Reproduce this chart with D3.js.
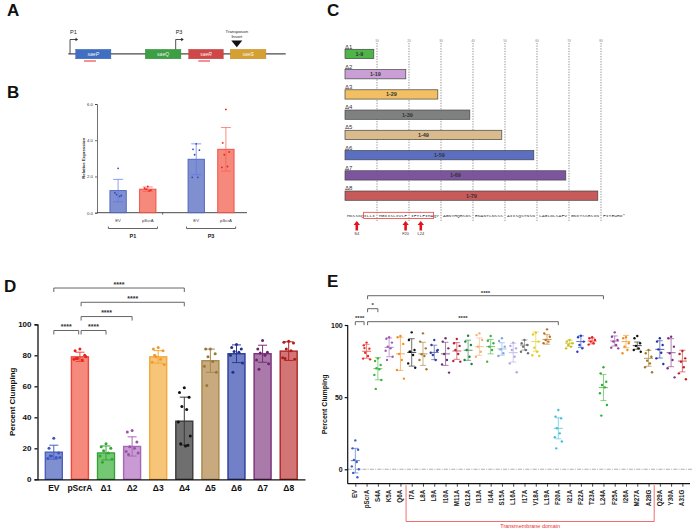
<!DOCTYPE html>
<html>
<head>
<meta charset="UTF-8">
<script src="https://d3js.org/d3.v7.min.js"></script>
<style>
  html, body { margin:0; padding:0; background:#fff; }
  svg { display:block; font-family:"Liberation Sans", Arial, sans-serif; }
</style>
</head>
<body>
<svg id="fig" width="692" height="529"></svg>
<script>
// ---------- panel A : sae operon ----------
var geneNames = ["saeP", "saeQ", "saeR", "saeS"];
var geneStart = [34, 354, 554, 745];
var geneEnd = [196, 518, 713, 909];
var geneColors = ["#3f6fc2", "#3c9f43", "#cf4747", "#d69f32"];
var promoters = [{name: "P1", pos: 8}, {name: "P3", pos: 494}];
var transposonPos = 775;
var probeSpans = [[72, 127], [598, 652]];

// ---------- panel B : qPCR ----------
var bGroups = ["P1", "P3"];
var bStrains = ["EV", "pScrA"];
var bMeans = [[1.22, 1.3], [2.95, 3.5]];
var bSd = [[0.62, 0.12], [0.85, 1.2]];
var bPoints = [
  [[2.45, 1.1, 0.95, 1.0, 0.9], [1.45, 1.35, 1.25, 1.3, 1.2]],
  [[3.8, 3.5, 3.45, 3.2, 1.95, 1.95], [5.7, 3.85, 3.35, 3.2, 2.55, 2.5]]
];
var bTicks = [0, 2, 4, 6];

// ---------- panel C : truncations ----------
var cNames = ["Δ1", "Δ2", "Δ3", "Δ4", "Δ5", "Δ6", "Δ7", "Δ8"];
var cEnds = [9, 19, 29, 39, 49, 59, 69, 79];
var cColors = ["#4fb548", "#c99fd6", "#f2c062", "#7f8181", "#d9bb8e", "#5b6fc1", "#7c559e", "#c75a5a"];
var cTicks = [10, 20, 30, 40, 50, 60, 70, 80];
var cSeq = ["MKSSKQILLI", "MGIISLIVLF", "IFTLFIMAQY", "AGNYHQRSDS", "ENANTLNSSS",
            "AIISQSTNSN", "LAGLDLSAFV", "GNITSSRSIN", "FITEWRD*"];
var cTm = [7, 28];
var cArrows = [4, 20, 24];
var cArrowLabels = ["S4", "F20", "L24"];

// ---------- panel D : truncation clumping ----------
var dCats = ["EV", "pScrA", "Δ1", "Δ2", "Δ3", "Δ4", "Δ5", "Δ6", "Δ7", "Δ8"];
var dMeans = [17.5, 79, 17, 21.2, 79, 37.5, 76.5, 81, 81, 82.7];
var dSd = [4.5, 3, 4.5, 6.2, 4, 15.5, 7.5, 5.7, 5.5, 6];
var dPoints = [
  [26.5, 20, 17, 15, 14, 13.5, 14, 15],
  [84, 83, 80, 78, 77, 77.5, 79, 78],
  [23, 21, 20, 18.5, 17, 15, 13, 11],
  [31.5, 30.5, 24, 21, 20, 18, 17, 16],
  [85, 84, 83, 79, 77.5, 75.5, 74, 80],
  [59, 56, 53, 47, 45, 37, 28, 23, 22, 21.5],
  [84, 84, 81, 79, 76, 73, 69, 60.5],
  [87, 85, 84, 82.5, 82, 80, 75, 69],
  [89.5, 84, 82, 81.5, 80, 77, 74.5, 71],
  [89, 88.5, 88, 84, 83, 78.5, 77.5, 78]
];
var dFill = ["#7f8fd0", "#f58a7c", "#74c874", "#c99ad3", "#f6c577", "#6f6f6f", "#c9aa7e", "#7280c8", "#a97aaa", "#d47575"];
var dStroke = ["#4a60bf", "#f0473c", "#3aa13a", "#a66ab4", "#f5a83a", "#3a3a3a", "#a8884e", "#2c3c94", "#7a2f78", "#ab2626"];
var dDot = ["#3a56c0", "#e8231e", "#2ea82e", "#9a52a8", "#f29a28", "#111111", "#9a7838", "#1f2f8e", "#6e2470", "#b01c1c"];
var dTicks = [0, 20, 40, 60, 80, 100];
var dSig = [
  {a: "EV", b: "pScrA", y: 96, t: "****"},
  {a: "pScrA", b: "Δ1", y: 96, t: "****"},
  {a: "pScrA", b: "Δ2", y: 105, t: "****"},
  {a: "pScrA", b: "Δ4", y: 114.2, t: "****"},
  {a: "EV", b: "Δ4", y: 123.4, t: "****"}
];

// ---------- panel E : alanine scan ----------
var eCats = ["EV", "pScrA", "S4A", "K5A", "Q6A", "I7A", "L8A", "L9A", "I10A", "M11A", "G12A",
             "I13A", "I14A", "S15A", "L16A", "I17A", "V18A", "L19A", "F20A", "I21A", "F22A",
             "T23A", "L24A", "F25A", "I26A", "M27A", "A28G", "Q29A", "Y30A", "A31G"];
var eMeans = [6, 81.8, 69.7, 84.5, 80, 81, 80, 81, 80, 82, 82.5, 85, 85, 83.4, 80.8, 86.1,
              88.5, 90, 28.4, 87.3, 88.5, 88.9, 56.6, 88.9, 88.5, 85.7, 76.9, 83.1, 80.8, 75];
var eSd = [8.5, 4.8, 7.7, 6.5, 11.5, 9.5, 8, 5, 8, 5.8, 7, 6, 5, 4.3, 6.5, 3.5,
           6.7, 3.3, 7.3, 2.2, 4, 2, 9, 3.5, 4.3, 2.5, 5.5, 6, 9.7, 7.5];
var ePoints = [
  [20, 14.5, 13.5, 6.5, 5, 2, 0, -2.5, -5.5],
  [87.8, 85.9, 83.6, 80.8, 78.5, 76.7, 76.2, 84],
  [76.9, 75, 72.3, 70, 69.3, 65.4, 61.9, 55.7],
  [91.5, 90.5, 87.8, 85, 83.8, 82.2, 78, 75.8],
  [92.4, 91.5, 86.9, 79.9, 75.7, 68.8, 62.8],
  [94.9, 89.6, 82.7, 81.5, 79.2, 73.4, 70.4, 81.5],
  [94.2, 88.5, 83.8, 79.7, 78.5, 75.7, 69.3],
  [89.6, 86.1, 82.2, 79.2, 75.7, 80.8, 82.7],
  [90.8, 88.5, 83.8, 79.9, 75.7, 72.7, 67],
  [90.3, 87.3, 85.5, 82.7, 79.9, 75, 74.6],
  [92.6, 88.5, 86.1, 82.7, 78, 75.7, 73],
  [94.2, 93, 89.6, 85, 81.5, 78],
  [92.4, 89.1, 87.3, 85, 82.7, 74.6],
  [90.8, 88.9, 85, 83.1, 80.4, 78.5],
  [87.8, 85.5, 83.8, 82.7, 78, 73.4, 67.2],
  [89.6, 87.3, 86.1, 85, 82.7, 81.5, 80.4],
  [94.7, 93.5, 88.5, 84.3, 81.5, 79, 78.5],
  [97, 94.2, 91.9, 89.6, 88.5, 87.3],
  [41.1, 36.5, 35.3, 28.4, 24.9, 22.2, 19.2, 14.5],
  [89.6, 88.5, 87.3, 86.1, 85, 83.8],
  [92.6, 91.5, 88.5, 86.1, 83.8, 81.5],
  [91.5, 90.8, 89.6, 88.5, 87.3, 86.4],
  [70.7, 66.5, 60.7, 58.4, 56.8, 52.7, 44.6, 37.2],
  [94.9, 91.9, 89.6, 88.5, 86.1, 84.3, 83.8],
  [91.5, 90.8, 87.3, 85, 82.7, 80.4],
  [92.4, 90.8, 87.3, 85.5, 83.8, 82.7, 81.5],
  [82.7, 80.4, 78, 75.3, 73.4, 70.7, 67.2],
  [90.8, 88.5, 86.1, 83.1, 80.8, 76.9, 73],
  [91.9, 90.8, 85, 80.4, 75.7, 70, 63.7],
  [82, 79.9, 76.9, 74.6, 70.7, 66.5, 62.4]
];
var eColors = ["#3a5fc8", "#e8302a", "#3cb43c", "#a060b8", "#f59020", "#111111", "#a07830", "#3040a0",
               "#703070", "#c02030", "#208040", "#f5b070", "#40b040", "#80a8e0", "#b0a8e0", "#707070",
               "#e0cc20", "#c07020", "#40c0d8", "#c8c020", "#2040c0", "#e82020", "#30b030", "#9040a0",
               "#f09020", "#111111", "#a07828", "#2030a0", "#803080", "#c02020"];
var eTicks = [0, 50, 100];
var eSig = [
  {a: "EV", b: "pScrA", y: 102.3, t: "****"},
  {a: "pScrA", b: "S4A", y: 111.3, t: "*"},
  {a: "pScrA", b: "F20A", y: 102.3, t: "****"},
  {a: "pScrA", b: "L24A", y: 120.3, t: "****"}
];
var eTmFrom = ["Q6A", "I7A"], eTmTo = ["A28G", "Q29A"];

// jitter pattern (fraction of half-width) for scattered dots
var jit = [0, -0.8, 0.8, -0.4, 0.4, -1, 1, -0.6, 0.6, 0.2];

var svg = d3.select("#fig");

// panel letters
[["A", 7, 16], ["B", 7, 98], ["C", 327, 16], ["D", 4, 292], ["E", 327, 287]].forEach(function(l) {
  svg.append("text").attr("x", l[1]).attr("y", l[2]).text(l[0])
    .attr("font-size", 17).attr("font-weight", "bold").attr("fill", "#111");
});

// ================= A =================
(function() {
  var g = svg.append("g");
  var x = d3.scaleLinear().domain([0, 1000]).range([68.3, 285.7]);
  var yl = 53.8, top = 49.3, h = 9.5;
  g.append("line").attr("x1", x(0)).attr("x2", x(1000)).attr("y1", yl).attr("y2", yl)
    .attr("stroke", "#4a4a4a").attr("stroke-width", 1.3);
  var genes = geneNames.map(function(n, i) { return {name: n, s: geneStart[i], e: geneEnd[i], c: geneColors[i]}; });
  g.selectAll("rect.gene").data(genes).enter().append("rect")
    .attr("x", function(d) { return x(d.s); })
    .attr("width", function(d) { return x(d.e) - x(d.s); })
    .attr("y", top).attr("height", h)
    .attr("fill", function(d) { return d.c; })
    .attr("stroke", function(d) { return d3.color(d.c).darker(0.4); }).attr("stroke-width", 0.4);
  g.selectAll("text.gene").data(genes).enter().append("text")
    .attr("x", function(d) { return (x(d.s) + x(d.e)) / 2; }).attr("y", top + h / 2 + 1.7)
    .attr("text-anchor", "middle").attr("font-size", 5).attr("font-style", "italic")
    .attr("fill", "#f4f4f4").text(function(d) { return d.name; });
  probeSpans.forEach(function(p) {
    g.append("line").attr("x1", x(p[0])).attr("x2", x(p[1])).attr("y1", 61).attr("y2", 61)
      .attr("stroke", "#f0555a").attr("stroke-width", 1.3);
  });
  promoters.forEach(function(p, i) {
    var px = x(p.pos), y0 = i === 0 ? yl : top;
    g.append("path").attr("d", "M" + px + "," + y0 + "V39.5H" + (px + 6))
      .attr("fill", "none").attr("stroke", "#222").attr("stroke-width", 0.8);
    g.append("path").attr("d", "M" + (px + 8) + ",39.5L" + (px + 5.5) + ",37.8L" + (px + 5.5) + ",41.2Z").attr("fill", "#222");
    g.append("text").attr("x", px).attr("y", 33.5).attr("font-size", 5.5).attr("fill", "#222").text(p.name);
  });
  var tx = x(transposonPos);
  g.append("path").attr("d", "M" + (tx - 5.5) + ",40.5L" + (tx + 5.5) + ",40.5L" + tx + ",47.3Z").attr("fill", "#111");
  g.append("text").attr("x", tx).attr("y", 33).attr("text-anchor", "middle").attr("font-size", 4.3).attr("fill", "#222").text("Transposon");
  g.append("text").attr("x", tx).attr("y", 38.3).attr("text-anchor", "middle").attr("font-size", 4.3).attr("fill", "#222").text("Insert");
})();

// ================= B =================
(function() {
  var g = svg.append("g");
  var y = d3.scaleLinear().domain([0, 6]).range([212.7, 104]);
  var x0 = d3.scaleBand().domain(bGroups).range([97, 247]).paddingInner(0.32).paddingOuter(0.12);
  var x1 = d3.scaleBand().domain(bStrains).range([0, x0.bandwidth()]).paddingInner(0.45).paddingOuter(0.12);
  var fills = ["#7f8fd0", "#f58a7c"], strokes = ["#4a60bf", "#f0473c"], dots = ["#2e4bb8", "#e8231e"];
  g.append("g").attr("transform", "translate(97,0)")
    .call(d3.axisLeft(y).tickValues(bTicks).tickSize(2).tickPadding(2))
    .call(function(a) {
      a.selectAll("text").attr("font-size", 4.3).attr("fill", "#333");
      a.selectAll("line,path").attr("stroke", "#333").attr("stroke-width", 0.7);
    });
  g.append("line").attr("x1", 97).attr("x2", 247).attr("y1", y(0)).attr("y2", y(0)).attr("stroke", "#333").attr("stroke-width", 0.9);
  g.append("line").attr("x1", x0.step() + 97 - x0.step() * 0.16).attr("x2", x0.step() + 97 - x0.step() * 0.16)
    .attr("y1", y(0)).attr("y2", y(0) + 2).attr("stroke", "#333").attr("stroke-width", 0.7);
  bGroups.forEach(function(gr, gi) {
    bStrains.forEach(function(st, si) {
      var bx = x0(gr) + x1(st), bw = x1.bandwidth(), cx = bx + bw / 2;
      var m = bMeans[gi][si], sd = bSd[gi][si];
      g.append("rect").attr("x", bx).attr("width", bw).attr("y", y(m)).attr("height", y(0) - y(m))
        .attr("fill", fills[si]).attr("stroke", strokes[si]).attr("stroke-width", 0.9);
      var ec = d3.color(strokes[si]).brighter(0.6);
      g.append("line").attr("x1", cx).attr("x2", cx).attr("y1", y(m - sd)).attr("y2", y(m + sd)).attr("stroke", ec).attr("stroke-width", 0.7);
      [m - sd, m + sd].forEach(function(v) {
        g.append("line").attr("x1", cx - 5).attr("x2", cx + 5).attr("y1", y(v)).attr("y2", y(v)).attr("stroke", ec).attr("stroke-width", 0.7);
      });
      g.selectAll(null).data(bPoints[gi][si]).enter().append("circle")
        .attr("cx", function(d, i) { return cx + jit[i] * 4; })
        .attr("cy", function(d) { return y(d); }).attr("r", 0.9).attr("fill", dots[si]);
      g.append("text").attr("x", cx).attr("y", 222).attr("text-anchor", "middle").attr("font-size", 4.3).attr("fill", "#333").text(st);
    });
    var l = x0(gr) + 2, r = x0(gr) + x0.bandwidth() - 2;
    g.append("path").attr("d", "M" + l + ",226.5V228.5H" + r + "V226.5").attr("fill", "none").attr("stroke", "#555").attr("stroke-width", 0.9);
    g.append("text").attr("x", (l + r) / 2).attr("y", 238).attr("text-anchor", "middle")
      .attr("font-size", 5.5).attr("font-weight", "bold").attr("fill", "#222").text(gr);
  });
  g.append("text").attr("transform", "translate(85," + y(3) + ") rotate(-90)").attr("text-anchor", "middle")
    .attr("font-size", 4.3).attr("font-weight", "bold").attr("fill", "#333").text("Relative Expression");
})();

// ================= C =================
(function() {
  var g = svg.append("g");
  var x = d3.scaleLinear().domain([0, 80]).range([345, 601]);
  var y = d3.scalePoint().domain(cNames).range([49.3, 191]);
  var bh = 9.3;
  g.selectAll("line.grid").data(cTicks).enter().append("line")
    .attr("x1", x).attr("x2", x).attr("y1", 43).attr("y2", 221)
    .attr("stroke", "#444").attr("stroke-width", 0.6).attr("stroke-dasharray", "1.3,1.3");
  g.selectAll("text.tick").data(cTicks).enter().append("text")
    .attr("x", x).attr("y", 42).attr("text-anchor", "middle").attr("font-size", 3.3).attr("fill", "#888")
    .text(function(d) { return d; });
  cNames.forEach(function(n, i) {
    var yy = y(n);
    g.append("rect").attr("x", x(0)).attr("width", x(cEnds[i]) - x(0)).attr("y", yy).attr("height", bh)
      .attr("fill", cColors[i]).attr("stroke", "#444").attr("stroke-width", 0.7);
    g.append("text").attr("x", x(0)).attr("y", yy - 0.8).attr("font-size", 6).attr("fill", "#333").text(n);
    g.append("text").attr("x", (x(0) + x(cEnds[i])) / 2).attr("y", yy + bh / 2 + 2).attr("text-anchor", "middle")
      .attr("font-size", 5.5).attr("font-weight", "bold").attr("fill", "#333").text("1-" + cEnds[i]);
  });
  // sequence
  cSeq.forEach(function(s, k) {
    g.append("text").attr("x", x(k * 10) + 2).attr("y", 217.2)
      .attr("font-family", "Liberation Mono, monospace").attr("font-size", 4.4).attr("fill", "#333")
      .attr("textLength", s.length * 2.8).attr("lengthAdjust", "spacingAndGlyphs").text(s);
  });
  var resX = function(r) { var k = Math.floor((r - 1) / 10); return x(k * 10) + 2 + ((r - 1) % 10 + 0.5) * 2.8; };
  g.append("rect").attr("x", resX(cTm[0]) - 1.6).attr("width", resX(cTm[1]) - resX(cTm[0]) + 3.2)
    .attr("y", 212.3).attr("height", 6.2).attr("fill", "none").attr("stroke", "#e84040").attr("stroke-width", 0.8);
  cArrows.forEach(function(r, i) {
    var ax = resX(r);
    g.append("path").attr("d", "M" + ax + ",221L" + (ax + 3.2) + ",225L" + (ax + 1.3) + ",225L" + (ax + 1.3) + ",230.5L" +
      (ax - 1.3) + ",230.5L" + (ax - 1.3) + ",225L" + (ax - 3.2) + ",225Z").attr("fill", "#e0141a");
    g.append("text").attr("x", ax).attr("y", 234.5).attr("text-anchor", "middle").attr("font-size", 4).attr("fill", "#333").text(cArrowLabels[i]);
  });
})();

// ================= D =================
(function() {
  var g = svg.append("g");
  var y = d3.scaleLinear().domain([0, 100]).range([479.3, 324.3]);
  var x = d3.scaleBand().domain(dCats).range([37.5, 305]).paddingInner(0.35).paddingOuter(0.3);
  var bw = x.bandwidth();
  dCats.forEach(function(c, i) {
    var bx = x(c), cx = bx + bw / 2, m = dMeans[i], sd = dSd[i];
    g.append("rect").attr("x", bx).attr("width", bw).attr("y", y(m)).attr("height", y(0) - y(m))
      .attr("fill", dFill[i]).attr("stroke", dStroke[i]).attr("stroke-width", 1.4);
    g.append("line").attr("x1", cx).attr("x2", cx).attr("y1", y(m - sd)).attr("y2", y(m + sd))
      .attr("stroke", dStroke[i]).attr("stroke-width", 1);
    [m - sd, m + sd].forEach(function(v) {
      g.append("line").attr("x1", cx - 4.5).attr("x2", cx + 4.5).attr("y1", y(v)).attr("y2", y(v))
        .attr("stroke", dStroke[i]).attr("stroke-width", 1);
    });
    g.selectAll(null).data(dPoints[i]).enter().append("circle")
      .attr("cx", function(d, j) { return cx + jit[j] * 6; })
      .attr("cy", function(d) { return y(d); }).attr("r", 1.5).attr("fill", dDot[i]);
  });
  g.append("g").attr("transform", "translate(0," + y(0) + ")")
    .call(d3.axisBottom(x).tickSize(0).tickPadding(6))
    .call(function(a) {
      a.select(".domain").attr("stroke", "#111").attr("stroke-width", 1.3);
      a.selectAll("text").attr("font-size", 8.5).attr("font-weight", "bold").attr("fill", "#111");
    });
  g.append("g").attr("transform", "translate(37.5,0)")
    .call(d3.axisLeft(y).tickValues(dTicks).tickSize(3).tickPadding(3))
    .call(function(a) {
      a.selectAll(".domain,line").attr("stroke", "#111").attr("stroke-width", 1.3);
      a.selectAll("text").attr("font-size", 8).attr("font-weight", "bold").attr("fill", "#111");
    });
  g.append("text").attr("transform", "translate(15," + y(50) + ") rotate(-90)").attr("text-anchor", "middle")
    .attr("font-size", 8).attr("font-weight", "bold").attr("fill", "#111").text("Percent Clumping");
  dSig.forEach(function(s) {
    var xa = x(s.a) + bw / 2 + (s.a === "pScrA" ? 1.2 : 0), xb = x(s.b) + bw / 2 - (s.b === "pScrA" ? 1.2 : 0), yy = y(s.y);
    g.append("path").attr("d", "M" + xa + "," + (yy + 4) + "V" + yy + "H" + xb + "V" + (yy + 4))
      .attr("fill", "none").attr("stroke", "#555").attr("stroke-width", 0.9);
    g.append("text").attr("x", (xa + xb) / 2).attr("y", yy - 1.3).attr("text-anchor", "middle")
      .attr("font-size", 7).attr("font-weight", "bold").attr("fill", "#333").text(s.t);
  });
})();

// ================= E =================
(function() {
  var g = svg.append("g");
  var y = d3.scaleLinear().domain([-10, 100]).range([483.7, 325]);
  var x = d3.scalePoint().domain(eCats).range([347.7, 690]).padding(0.675);
  g.append("line").attr("x1", 347.7).attr("x2", 692).attr("y1", y(0)).attr("y2", y(0))
    .attr("stroke", "#9a9a9a").attr("stroke-width", 0.8).attr("stroke-dasharray", "4,1.2,1,1.2");
  eCats.forEach(function(c, i) {
    var cx = x(c), m = eMeans[i], sd = eSd[i], col = eColors[i];
    var lc = d3.interpolateRgb(col, "#ffffff")(0.25);
    g.append("line").attr("x1", cx).attr("x2", cx).attr("y1", y(m - sd)).attr("y2", y(m + sd)).attr("stroke", lc).attr("stroke-width", 0.8);
    [m - sd, m + sd].forEach(function(v) {
      g.append("line").attr("x1", cx - 3).attr("x2", cx + 3).attr("y1", y(v)).attr("y2", y(v)).attr("stroke", lc).attr("stroke-width", 0.8);
    });
    g.append("line").attr("x1", cx - 4.5).attr("x2", cx + 4.5).attr("y1", y(m)).attr("y2", y(m)).attr("stroke", lc).attr("stroke-width", 1);
    g.selectAll(null).data(ePoints[i]).enter().append("circle")
      .attr("cx", function(d, j) { return cx + jit[j] * 3.5; })
      .attr("cy", function(d) { return y(d); }).attr("r", 1.2).attr("fill", col);
  });
  g.append("g").attr("transform", "translate(0," + y(-10) + ")")
    .call(d3.axisBottom(x).tickSize(3).tickPadding(2))
    .call(function(a) {
      a.select(".domain").attr("d", "M347.7,0H690").attr("stroke", "#111").attr("stroke-width", 1.2);
      a.selectAll(".tick line").attr("stroke", "#111").attr("stroke-width", 0.8);
      a.selectAll("text").attr("font-size", 6.3).attr("font-weight", "bold").attr("fill", "#222")
        .attr("text-anchor", "end").attr("dy", "0.32em").attr("transform", "translate(-0.5,2) rotate(-90)")
        .attr("x", -4).attr("y", 0);
    });
  g.append("g").attr("transform", "translate(347.7,0)")
    .call(d3.axisLeft(y).tickValues(eTicks).tickSize(3).tickPadding(2))
    .call(function(a) {
      a.select(".domain").attr("d", "M0," + y(-10) + "V" + y(100)).attr("stroke", "#111").attr("stroke-width", 1.2);
      a.selectAll(".tick line").attr("stroke", "#111").attr("stroke-width", 1.2);
      a.selectAll("text").attr("font-size", 7).attr("font-weight", "bold").attr("fill", "#111");
    });
  g.append("text").attr("transform", "translate(327," + y(45) + ") rotate(-90)").attr("text-anchor", "middle")
    .attr("font-size", 7).attr("font-weight", "bold").attr("fill", "#111").text("Percent Clumping");
  eSig.forEach(function(s) {
    var xa = x(s.a) + (s.a === "pScrA" ? 1 : 0), xb = x(s.b) - (s.b === "pScrA" ? 2.5 : 0), yy = y(s.y);
    g.append("path").attr("d", "M" + xa + "," + (yy + 3.5) + "V" + yy + "H" + xb + "V" + (yy + 3.5))
      .attr("fill", "none").attr("stroke", "#555").attr("stroke-width", 0.9);
    g.append("text").attr("x", (xa + xb) / 2).attr("y", yy - 1.2).attr("text-anchor", "middle")
      .attr("font-size", 6).attr("font-weight", "bold").attr("fill", "#333").text(s.t);
  });
  var tl = (x(eTmFrom[0]) + x(eTmFrom[1])) / 2, tr = (x(eTmTo[0]) + x(eTmTo[1])) / 2;
  g.append("path").attr("d", "M" + tl + ",485V521.5H" + tr + "V485").attr("fill", "none")
    .attr("stroke", "#f04848").attr("stroke-width", 0.8);
  g.append("text").attr("x", (tl + tr) / 2).attr("y", 527.5).attr("text-anchor", "middle")
    .attr("font-size", 5.5).attr("fill", "#e83030").text("Transmembrane domain");
})();
</script>
</body>
</html>
